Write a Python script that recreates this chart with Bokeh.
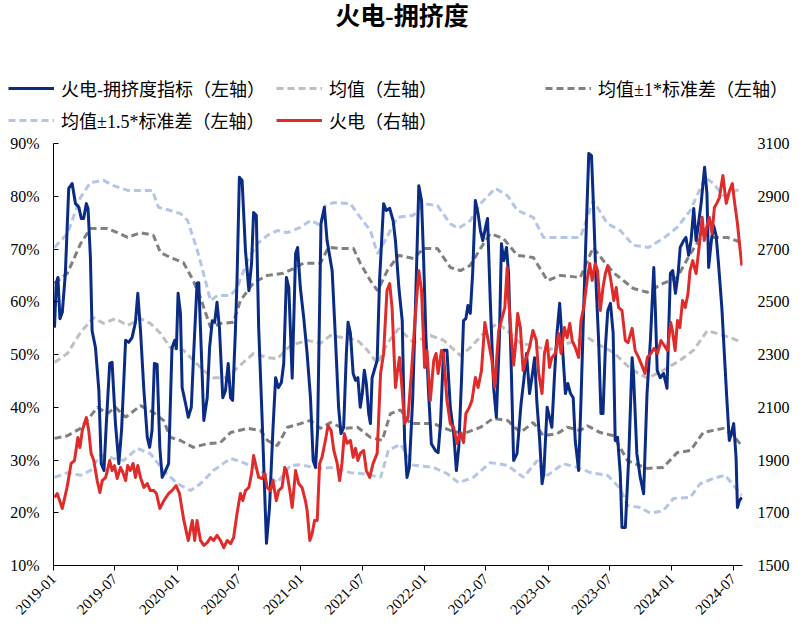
import math
import pandas as pd
from bokeh.plotting import figure
from bokeh.layouts import column
from bokeh.models import (Range1d, LinearAxis, FixedTicker, Legend, LegendItem,
                          Label, DatetimeTickFormatter)
from bokeh.embed import file_html
from bokeh.resources import INLINE

title_text = "火电-拥挤度"
x_tick_labels = ["2019-01", "2019-07", "2020-01", "2020-07", "2021-01", "2021-07",
                 "2022-01", "2022-07", "2023-01", "2023-07", "2024-01", "2024-07"]
left_ticks = [10, 20, 30, 40, 50, 60, 70, 80, 90]
right_ticks = [1500, 1700, 1900, 2100, 2300, 2500, 2700, 2900, 3100]

names = ["火电-拥挤度指标（左轴）", "均值（左轴）", "均值±1*标准差（左轴）",
         "均值±1.5*标准差（左轴）", "火电（右轴）"]

crowd_dates = ["2019-01-04","2019-01-09","2019-01-14","2019-01-20","2019-01-27","2019-02-05","2019-02-15","2019-02-25","2019-03-07","2019-03-17","2019-03-24","2019-03-31","2019-04-08","2019-04-13","2019-04-20","2019-04-25","2019-05-05","2019-05-15","2019-05-22","2019-05-30","2019-06-06","2019-06-16","2019-06-23","2019-07-03","2019-07-13","2019-07-21","2019-08-02","2019-08-11","2019-08-21","2019-08-31","2019-09-07","2019-09-15","2019-09-25","2019-10-05","2019-10-12","2019-10-19","2019-10-26","2019-11-03","2019-11-11","2019-11-18","2019-11-28","2019-12-07","2019-12-17","2019-12-25","2019-12-30",
"2020-01-04","2020-01-11","2020-01-16","2020-01-26","2020-02-03","2020-02-12","2020-02-19","2020-02-29","2020-03-05","2020-03-10","2020-03-20","2020-03-30","2020-04-06","2020-04-14","2020-04-21","2020-04-28","2020-05-05","2020-05-15","2020-05-23","2020-05-31","2020-06-07","2020-06-13","2020-06-21","2020-06-26","2020-07-03","2020-07-11","2020-07-21","2020-07-31","2020-08-08","2020-08-14","2020-08-22","2020-08-29","2020-09-08","2020-09-21","2020-09-30","2020-10-10","2020-10-18","2020-10-26","2020-11-04","2020-11-11","2020-11-19","2020-11-26","2020-12-06","2020-12-16","2020-12-22","2020-12-30",
"2021-01-09","2021-01-19","2021-01-29","2021-02-06","2021-02-13","2021-02-19","2021-03-01","2021-03-11","2021-03-19","2021-04-03","2021-04-13","2021-04-22","2021-04-29","2021-05-07","2021-05-15","2021-05-20","2021-05-27","2021-06-04","2021-06-11","2021-06-18","2021-06-25","2021-07-01","2021-07-07","2021-07-13","2021-07-20","2021-07-25","2021-07-30","2021-08-14","2021-08-21","2021-09-02","2021-09-10","2021-09-20","2021-09-30","2021-10-07","2021-10-17","2021-10-27","2021-11-03","2021-11-10","2021-11-17","2021-11-27","2021-12-05","2021-12-15","2021-12-23","2021-12-29",
"2022-01-05","2022-01-13","2022-01-21","2022-02-02","2022-02-10","2022-02-17","2022-02-26","2022-03-08","2022-03-18","2022-03-28","2022-04-05","2022-04-12","2022-04-20","2022-04-26","2022-05-03","2022-05-09","2022-05-16","2022-05-23","2022-05-31","2022-06-08","2022-06-15","2022-06-22","2022-06-30","2022-07-06","2022-07-14","2022-07-24","2022-08-01","2022-08-10","2022-08-16","2022-08-23","2022-08-31","2022-09-06","2022-09-14","2022-09-21","2022-10-01","2022-10-13","2022-10-21","2022-10-29","2022-11-07","2022-11-14","2022-11-22","2022-11-29","2022-12-07","2022-12-14","2022-12-19","2022-12-29",
"2023-01-05","2023-01-12","2023-01-19","2023-01-27","2023-02-04","2023-02-11","2023-02-21","2023-02-28","2023-03-08","2023-03-16","2023-03-22","2023-04-01","2023-04-08","2023-04-16","2023-04-24","2023-05-01","2023-05-09","2023-05-15","2023-05-23","2023-05-30","2023-06-06","2023-06-12","2023-06-19","2023-06-26","2023-07-04","2023-07-12","2023-07-18","2023-07-25","2023-08-02","2023-08-07","2023-08-17","2023-08-27","2023-09-06","2023-09-10","2023-09-20","2023-09-30","2023-10-10","2023-10-20","2023-10-30","2023-11-09","2023-11-14","2023-11-19","2023-11-28","2023-12-08","2023-12-18","2023-12-28",
"2024-01-04","2024-01-12","2024-01-20","2024-01-26","2024-02-05","2024-02-12","2024-02-20","2024-02-27","2024-03-06","2024-03-13","2024-03-20","2024-03-28","2024-04-07","2024-04-14","2024-04-19","2024-04-27","2024-05-04","2024-05-11","2024-05-18","2024-05-28","2024-06-05","2024-06-12","2024-06-19","2024-06-25","2024-07-02","2024-07-09","2024-07-13","2024-07-19","2024-07-26"]
crowd_values = [55.1,63.5,64.6,56.8,58.0,65.4,81.5,82.4,78.6,77.9,75.8,75.8,78.6,77.7,68.4,54.5,51.3,43.2,29.3,28.0,36.9,48.3,48.5,36.9,29.3,35.6,52.7,52.3,53.2,56.1,61.6,54.5,43.2,34.3,32.4,35.6,48.3,48.1,32.4,26.7,28.0,29.3,51.3,52.7,51.1,
61.6,57.8,43.7,40.7,38.1,40.0,50.2,63.5,63.6,55.1,37.5,41.8,51.3,56.4,56.1,59.9,55.1,41.8,43.2,48.3,41.8,41.3,54.0,64.0,83.6,83.0,69.7,62.1,67.3,76.9,76.4,55.1,38.1,14.2,21.0,35.6,45.6,43.7,44.7,48.3,64.6,62.7,45.5,69.1,70.3,62.7,
57.0,50.2,41.8,29.9,28.6,35.6,74.8,77.9,71.6,65.9,52.7,40.0,35.0,36.2,50.2,56.1,54.0,46.4,45.1,45.6,40.0,42.6,47.0,44.5,38.8,36.9,45.6,48.9,64.0,78.6,77.3,77.7,75.4,71.6,62.7,56.4,33.7,26.7,28.6,41.8,58.9,82.0,79.2,68.4,
53.2,42.6,33.1,31.8,31.4,36.9,50.8,50.8,40.0,35.0,28.0,32.4,45.1,56.4,56.8,59.3,57.8,65.4,79.2,76.7,73.5,71.6,74.1,75.8,60.2,43.7,38.1,53.2,71.0,67.8,70.3,65.4,47.5,29.9,31.2,40.7,45.1,50.2,42.6,45.6,49.4,40.7,33.7,25.5,27.4,40.0,
38.1,36.2,45.1,54.0,59.7,52.7,42.6,44.5,42.6,41.8,33.7,28.0,41.3,58.9,74.8,88.1,87.7,77.9,62.7,52.7,38.8,38.8,51.3,58.3,59.7,54.0,33.7,34.3,27.4,17.2,17.2,30.5,49.4,46.4,31.2,26.7,23.6,42.6,52.7,66.5,57.8,47.0,45.6,46.4,43.6,65.4,
65.9,61.6,65.4,70.3,71.6,72.2,68.8,71.6,77.7,71.6,74.8,78.8,85.5,80.5,66.5,71.6,74.4,72.6,67.3,58.9,49.4,41.3,33.7,35.0,36.9,30.5,21.0,22.3,22.9]

power_dates = ["2019-01-04","2019-01-12","2019-01-27","2019-02-10","2019-02-22","2019-03-04","2019-03-14","2019-03-20","2019-03-27","2019-04-08","2019-04-15","2019-04-22","2019-04-30","2019-05-10","2019-05-18","2019-05-25","2019-06-04","2019-06-09","2019-06-16","2019-06-23","2019-06-30","2019-07-08","2019-07-18","2019-07-26","2019-08-02","2019-08-08","2019-08-16","2019-08-24","2019-08-31","2019-09-07","2019-09-15","2019-09-25","2019-10-05","2019-10-14","2019-10-24","2019-11-01","2019-11-11","2019-11-23","2019-12-07","2019-12-17","2019-12-29",
"2020-01-08","2020-01-21","2020-02-03","2020-02-15","2020-02-22","2020-02-29","2020-03-10","2020-03-20","2020-03-30","2020-04-09","2020-04-18","2020-04-28","2020-05-08","2020-05-18","2020-05-28","2020-06-07","2020-06-16","2020-06-26","2020-07-06","2020-07-13","2020-07-21","2020-07-31","2020-08-08","2020-08-14","2020-08-22","2020-08-29","2020-09-08","2020-09-16","2020-09-23","2020-10-03","2020-10-10","2020-10-20","2020-10-27","2020-11-06","2020-11-14","2020-11-19","2020-11-29","2020-12-06","2020-12-16","2020-12-25",
"2021-01-04","2021-01-14","2021-01-19","2021-01-27","2021-02-03","2021-02-10","2021-02-18","2021-02-25","2021-03-04","2021-03-14","2021-03-22","2021-03-31","2021-04-08","2021-04-18","2021-04-25","2021-05-02","2021-05-09","2021-05-17","2021-05-27","2021-06-04","2021-06-11","2021-06-18","2021-06-25","2021-07-05","2021-07-13","2021-07-23","2021-08-02","2021-08-14","2021-08-24","2021-09-02","2021-09-12","2021-09-20","2021-09-27","2021-10-07","2021-10-12","2021-10-19","2021-10-27","2021-11-03","2021-11-13","2021-11-23","2021-12-03","2021-12-15","2021-12-23",
"2022-01-01","2022-01-08","2022-01-18","2022-01-28","2022-02-04","2022-02-10","2022-02-20","2022-02-26","2022-03-08","2022-03-18","2022-03-28","2022-04-07","2022-04-17","2022-04-26","2022-05-03","2022-05-13","2022-05-21","2022-05-31","2022-06-08","2022-06-18","2022-06-28","2022-07-08","2022-07-19","2022-07-27","2022-08-08","2022-08-18","2022-08-26","2022-09-02","2022-09-06","2022-09-14","2022-09-21","2022-09-26","2022-10-03","2022-10-11","2022-10-19","2022-10-29","2022-11-07","2022-11-17","2022-11-27","2022-12-04","2022-12-14","2022-12-21","2022-12-29",
"2023-01-05","2023-01-12","2023-01-22","2023-02-01","2023-02-08","2023-02-18","2023-02-26","2023-03-06","2023-03-13","2023-03-22","2023-04-01","2023-04-08","2023-04-16","2023-04-26","2023-05-04","2023-05-11","2023-05-20","2023-05-27","2023-06-04","2023-06-12","2023-06-19","2023-06-26","2023-07-04","2023-07-14","2023-07-21","2023-07-28","2023-08-07","2023-08-17","2023-08-25","2023-09-06","2023-09-15","2023-09-25","2023-10-07","2023-10-14","2023-10-21","2023-10-31","2023-11-10","2023-11-20","2023-11-30","2023-12-10","2023-12-19","2023-12-29",
"2024-01-03","2024-01-11","2024-01-18","2024-01-25","2024-02-02","2024-02-10","2024-02-18","2024-02-24","2024-03-03","2024-03-13","2024-03-23","2024-03-31","2024-04-06","2024-04-13","2024-04-21","2024-04-29","2024-05-06","2024-05-13","2024-05-21","2024-05-31","2024-06-10","2024-06-20","2024-06-28","2024-07-05","2024-07-13","2024-07-19","2024-07-26"]
power_values = [1758,1773,1716,1796,1887,1898,1985,1947,2012,2061,2012,1925,1898,1822,1777,1822,1834,1860,1898,1860,1879,1830,1872,1849,1822,1879,1860,1887,1834,1879,1834,1796,1811,1784,1784,1773,1716,1746,1773,1784,1803,
1773,1671,1595,1671,1595,1671,1595,1576,1587,1606,1595,1614,1595,1568,1595,1583,1606,1697,1773,1746,1784,1796,1849,1917,1872,1834,1830,1849,1796,1784,1822,1746,1784,1796,1872,1860,1784,1720,1860,1811,
1796,1746,1709,1595,1621,1671,1671,1887,1910,1974,2031,2012,1936,1887,1822,1887,2000,1963,1974,1910,1944,1898,1925,1936,1860,1834,1887,1925,2228,2304,2543,2569,2478,2175,2228,2289,2163,2038,2061,2228,2418,2618,2543,
2251,2315,2126,2277,2304,2228,2315,2304,2126,2038,2023,1963,2004,1966,2076,2099,2126,2213,2175,2239,2421,2353,2277,2175,2391,2440,2478,2630,2516,2370,2260,2327,2455,2402,2239,2289,2327,2391,2353,2228,2152,2304,2353,
2251,2289,2304,2380,2304,2402,2364,2418,2353,2327,2289,2429,2478,2581,2645,2581,2645,2618,2467,2554,2607,2637,2592,2505,2554,2478,2467,2353,2345,2399,2315,2289,2251,2228,2289,2304,2323,2304,2353,2334,2315,2421,
2391,2315,2429,2402,2505,2478,2531,2618,2656,2607,2721,2820,2732,2782,2820,2759,2857,2873,2895,2979,2873,2922,2948,2873,2797,2721,2637]

mean_dates = ["2019-01-04","2019-02-11","2019-03-22","2019-04-29","2019-05-29","2019-07-03","2019-08-08","2019-09-15","2019-10-14","2019-11-13","2019-12-12","2020-01-20","2020-02-18","2020-03-19","2020-04-17","2020-05-29","2020-06-27","2020-08-14","2020-09-24","2020-10-23","2020-12-01","2021-01-20","2021-02-27","2021-03-29","2021-05-06","2021-06-17","2021-07-16","2021-08-15","2021-09-13","2021-10-16","2021-11-29","2022-01-18","2022-02-26","2022-04-17","2022-05-16","2022-06-24","2022-08-04","2022-09-03","2022-10-11","2022-11-18","2022-12-30","2023-02-27","2023-04-27","2023-06-04","2023-07-13","2023-09-01","2023-10-21","2023-12-07","2024-01-26","2024-03-05","2024-04-15","2024-05-14","2024-06-22","2024-07-26"]
mean_values = [48.5,50.2,54.2,57.0,55.9,56.8,55.5,56.8,55.9,54.0,51.3,50.8,48.9,47.0,45.6,45.6,47.5,50.2,49.4,49.2,51.7,52.7,52.1,53.6,53.2,52.7,50.8,48.3,52.1,54.9,52.3,53.6,52.7,49.8,51.3,54.0,55.9,54.5,52.1,51.7,50.8,52.1,53.2,51.7,50.4,47.3,45.5,47.0,48.9,50.8,54.5,54.0,53.2,52.3]

up1_dates = ["2019-01-04","2019-02-11","2019-03-22","2019-04-20","2019-06-09","2019-07-09","2019-08-08","2019-09-15","2019-10-23","2019-11-13","2019-12-12","2020-01-20","2020-02-18","2020-03-10","2020-04-09","2020-05-08","2020-06-15","2020-07-06","2020-08-14","2020-09-24","2020-11-10","2020-12-10","2021-01-08","2021-02-27","2021-03-23","2021-04-27","2021-06-05","2021-06-25","2021-07-25","2021-08-15","2021-09-13","2021-10-16","2021-11-29","2021-12-29","2022-02-08","2022-03-18","2022-04-17","2022-05-16","2022-06-15","2022-07-14","2022-08-22","2022-10-02","2022-11-18","2022-12-30","2023-02-06","2023-04-06","2023-05-14","2023-06-13","2023-07-13","2023-09-10","2023-10-21","2023-12-07","2024-01-17","2024-02-25","2024-04-03","2024-05-03","2024-06-13","2024-07-26"]
up1_values = [63.5,65.4,71.0,73.9,73.9,73.1,72.2,73.1,72.6,69.3,68.4,67.4,64.0,60.8,55.1,55.9,56.1,60.2,63.6,65.0,65.4,66.3,67.3,67.3,70.3,70.1,70.1,67.3,64.0,62.1,65.9,68.8,68.2,70.1,70.1,66.5,65.9,66.9,70.1,72.9,72.0,68.8,68.4,64.0,65.0,64.6,70.3,67.8,65.5,62.5,61.8,63.5,64.6,69.1,72.9,72.2,72.2,71.2]

low1_dates = ["2019-01-04","2019-02-11","2019-03-22","2019-05-11","2019-06-09","2019-07-03","2019-08-02","2019-09-15","2019-10-23","2019-11-22","2019-12-12","2020-01-11","2020-02-18","2020-03-31","2020-05-08","2020-06-07","2020-07-27","2020-09-03","2020-09-24","2020-10-23","2020-11-22","2020-12-30","2021-01-29","2021-02-27","2021-03-29","2021-05-06","2021-06-17","2021-07-25","2021-08-29","2021-09-22","2021-10-22","2021-11-20","2022-01-27","2022-03-18","2022-04-26","2022-06-15","2022-07-23","2022-09-03","2022-10-11","2022-11-18","2022-12-18","2023-01-28","2023-02-27","2023-04-06","2023-04-27","2023-06-04","2023-07-13","2023-08-23","2023-10-21","2023-12-07","2024-01-17","2024-02-25","2024-04-03","2024-06-01","2024-07-01","2024-07-26"]
low1_values = [34.1,34.6,36.0,40.0,38.8,40.0,38.1,40.3,39.0,37.5,34.3,33.7,32.4,33.1,33.3,35.2,36.0,35.6,33.7,32.7,36.2,36.9,37.5,36.0,37.1,36.0,36.2,34.3,33.7,38.8,39.5,36.9,36.9,35.6,35.0,36.2,37.9,37.5,35.2,37.1,34.6,35.0,36.2,35.6,36.5,35.2,34.6,29.9,28.4,28.6,31.4,31.8,35.2,36.0,34.6,32.7]

up15_dates = ["2019-01-04","2019-02-11","2019-03-22","2019-04-20","2019-05-29","2019-06-27","2019-08-08","2019-09-15","2019-10-20","2019-11-07","2019-12-12","2020-01-11","2020-02-01","2020-03-01","2020-03-19","2020-04-09","2020-04-29","2020-06-07","2020-06-27","2020-07-27","2020-08-25","2020-09-24","2020-10-23","2020-11-22","2020-12-30","2021-01-29","2021-02-27","2021-03-14","2021-04-07","2021-05-27","2021-06-25","2021-07-25","2021-08-15","2021-09-01","2021-09-22","2021-10-13","2021-11-29","2021-12-29","2022-02-08","2022-03-18","2022-04-11","2022-05-16","2022-06-15","2022-07-29","2022-09-03","2022-10-02","2022-11-18","2022-12-18","2023-01-28","2023-02-27","2023-04-06","2023-05-14","2023-06-25","2023-08-02","2023-09-10","2023-10-24","2023-12-07","2024-01-17","2024-02-25","2024-04-09","2024-05-03","2024-06-01","2024-07-26"]
up15_values = [70.3,72.9,79.8,82.6,83.0,82.0,81.1,81.1,81.1,77.9,77.3,76.7,75.4,69.7,65.4,60.2,61.2,61.2,62.7,67.8,71.0,72.6,73.5,73.1,74.1,75.4,74.5,78.2,78.8,78.6,76.0,73.5,69.1,71.0,73.5,76.0,76.4,78.6,78.2,74.8,73.9,75.4,78.6,81.5,80.1,77.3,76.0,72.2,72.2,72.2,72.2,79.2,74.8,73.5,70.7,70.3,72.0,74.1,77.3,83.6,82.4,80.1,81.5]

low15_dates = ["2019-01-04","2019-02-11","2019-03-22","2019-04-20","2019-05-20","2019-06-27","2019-07-27","2019-09-06","2019-10-14","2019-11-22","2020-01-02","2020-02-10","2020-03-10","2020-04-17","2020-06-07","2020-07-15","2020-09-03","2020-10-23","2020-12-01","2020-12-30","2021-02-07","2021-02-27","2021-04-07","2021-05-27","2021-07-04","2021-08-24","2021-09-16","2021-10-22","2021-11-29","2022-01-27","2022-03-09","2022-04-11","2022-05-25","2022-07-14","2022-09-03","2022-10-20","2022-11-30","2022-12-30","2023-02-15","2023-03-28","2023-05-06","2023-06-25","2023-08-02","2023-08-23","2023-09-30","2023-10-30","2023-12-07","2024-01-06","2024-02-25","2024-03-25","2024-05-03","2024-06-07","2024-07-01","2024-07-26"]
low15_values = [26.7,27.6,27.1,28.0,30.9,30.3,29.9,32.2,31.2,28.0,25.5,24.2,25.5,28.0,30.3,29.5,28.0,25.7,29.0,29.1,28.6,28.4,28.6,27.6,27.4,26.7,31.8,33.0,29.0,28.6,27.4,25.7,26.7,29.5,29.0,26.7,29.9,27.1,29.3,28.6,27.6,27.1,24.6,21.4,21.0,19.9,20.4,22.7,22.9,25.5,26.5,27.1,25.2,23.3]

# ---------------------------------------------------------------------------
FONT = "'Liberation Serif', 'Noto Sans CJK SC', serif"
C_BLUE = "#0B2C84"
C_RED = "#E02B2B"
C_MEAN = "#BFBFBF"
C_SD1 = "#808080"
C_SD15 = "#B4C6E7"
DASH = "7 4"

W = 795
HEAD_H = 133
MAIN_H = 625 - HEAD_H
L, R, T, B = 53, 53, 143 - HEAD_H, 60
ITEM_H = 26

styles = {
    "blue": dict(line_color=C_BLUE, line_width=3, line_join="round"),
    "red": dict(line_color=C_RED, line_width=3, line_join="round"),
    "mean": dict(line_color=C_MEAN, line_width=3, line_dash=DASH),
    "sd1": dict(line_color=C_SD1, line_width=3, line_dash=DASH),
    "sd15": dict(line_color=C_SD15, line_width=3, line_dash=DASH),
}

# ---------------- main chart ----------------
p = figure(width=W, height=MAIN_H, output_backend="svg", toolbar_location=None,
           x_axis_type="datetime",
           x_range=Range1d(pd.Timestamp("2019-01-01"), pd.Timestamp("2024-07-28")),
           y_range=Range1d(left_ticks[0], left_ticks[-1]),
           min_border_left=L, min_border_right=R, min_border_top=T, min_border_bottom=B)
p.frame_align = False
p.outline_line_color = None
p.xgrid.visible = False
p.ygrid.visible = False
p.extra_y_ranges = {"right": Range1d(right_ticks[0], right_ticks[-1])}

def dl(dates, vals, key, rng=None):
    kw = dict(styles[key])
    if rng:
        kw["y_range_name"] = rng
    return p.line(pd.to_datetime(dates), vals, **kw)

dl(low15_dates, low15_values, "sd15")
dl(up15_dates, up15_values, "sd15")
dl(low1_dates, low1_values, "sd1")
dl(up1_dates, up1_values, "sd1")
dl(mean_dates, mean_values, "mean")
dl(crowd_dates, crowd_values, "blue")
dl(power_dates, power_values, "red", rng="right")

xa = p.xaxis[0]
xa.ticker = FixedTicker(ticks=[pd.Timestamp(s + "-01").value / 1e6 for s in x_tick_labels])
xa.formatter = DatetimeTickFormatter(years="%Y-%m", months="%Y-%m", days="%Y-%m",
                                     hours="%Y-%m", minutes="%Y-%m", seconds="%Y-%m")
xa.major_label_orientation = math.pi / 4
xa.major_tick_in = 0
xa.major_tick_out = 5
xa.minor_tick_line_color = None
xa.axis_line_color = "black"
xa.major_tick_line_color = "black"
xa.major_label_text_font = FONT
xa.major_label_text_font_size = "15px"
xa.major_label_text_color = "black"
xa.major_label_standoff = 6

ya = p.yaxis[0]
ya.ticker = FixedTicker(ticks=left_ticks)
ya.major_label_overrides = {v: f"{v}%" for v in left_ticks}
ya.major_tick_in = 5
ya.major_tick_out = 0
ya.minor_tick_line_color = None
ya.axis_line_color = "black"
ya.major_tick_line_color = "black"
ya.major_label_text_font = FONT
ya.major_label_text_font_size = "16px"
ya.major_label_text_color = "black"
ya.major_label_standoff = 14

ra = LinearAxis(y_range_name="right", ticker=FixedTicker(ticks=right_ticks))
ra.axis_line_color = None
ra.major_tick_line_color = None
ra.minor_tick_line_color = None
ra.major_tick_in = 0
ra.major_tick_out = 0
ra.major_label_text_font = FONT
ra.major_label_text_font_size = "16px"
ra.major_label_text_color = "black"
ra.major_label_standoff = 15
p.add_layout(ra, "right")

# ---------------- header: title + legend ----------------
h = figure(width=W, height=HEAD_H, output_backend="svg", toolbar_location=None,
           x_range=Range1d(0, 1), y_range=Range1d(0, 1),
           x_axis_location=None, y_axis_location=None,
           min_border_left=0, min_border_right=0, min_border_top=0, min_border_bottom=0)
h.frame_align = False
h.outline_line_color = None
h.xgrid.visible = False
h.ygrid.visible = False

h.add_layout(Label(x=W / 2 + 4, y=HEAD_H - 16, x_units="screen", y_units="screen",
                   text=title_text, text_align="center", text_baseline="middle",
                   text_font=FONT, text_font_size="25px", text_font_style="bold",
                   text_color="black"))

nan = float("nan")
lr = {k: h.line([nan], [nan], **v) for k, v in styles.items()}

def legend(label, key, vx, center_y):
    lg = Legend(items=[LegendItem(label=label, renderers=[lr[key]])],
                location=(vx, HEAD_H - center_y - ITEM_H / 2), orientation="vertical",
                glyph_width=46, glyph_height=ITEM_H, label_height=ITEM_H, label_standoff=7,
                spacing=0, padding=0, margin=0, border_line_alpha=0,
                background_fill_alpha=0, label_text_font=FONT,
                label_text_font_size="18px", label_text_color="black")
    h.add_layout(lg)

legend(names[0], "blue", 8, 88)
legend(names[1], "mean", 276, 88)
legend(names[2], "sd1", 545, 88)
legend(names[3], "sd15", 8, 120)
legend(names[4], "red", 276, 120)

layout = column(h, p, spacing=0)
open("out.html", "w").write(file_html(layout, INLINE))
